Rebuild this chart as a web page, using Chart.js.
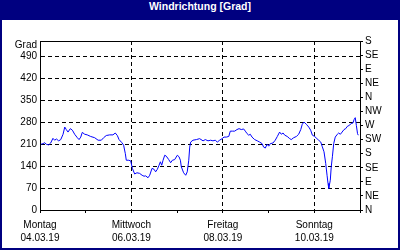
<!DOCTYPE html>
<html>
<head>
<meta charset="utf-8">
<script src="https://cdn.jsdelivr.net/npm/chart.js@4.4.1/dist/chart.umd.min.js"></script>
<style>
    html, body { margin: 0; padding: 0; }
    #frame {
        position: relative;
        width: 400px;
        height: 250px;
        background: #000080;
        overflow: hidden;
    }
    #title {
        height: 20px;
        line-height: 19px;
        text-align: center;
        color: #fff;
        font: bold 10.5px "Liberation Sans", Arial, sans-serif;
    }
    #box {
        position: absolute;
        left: 2px;
        top: 20px;
        width: 396px;
        height: 228px;
        background: #fff;
    }
</style>
</head>
<body>
<div id="frame">
    <div id="title">Windrichtung [Grad]</div>
    <div id="box"><canvas id="windChart"></canvas></div>
</div>
<script>
// Stunden seit Montag 04.03.19 00:00
const hours = [
    0, 1.6, 2.5, 3.3, 4.6, 5.6, 6.8, 7.7, 8.6, 9.8, 10.9, 12.1, 13, 13.8, 14.7, 15.9, 17, 18.2, 19.6, 20.5,
    21.4, 22.2, 23.5, 24.8, 26.6, 28.7, 30.5, 32.2, 33.4, 34.8, 36.6, 38.3, 39.5, 40.6, 41.5, 43, 43.9, 44.8, 45.3, 46.6,
    47.6, 48.5, 49.7, 50.9, 52.3, 53.6, 54.6, 55.5, 56.7, 57.6, 58.8, 59.9, 60.7, 61.6, 62.5, 63.2, 63.9, 64.6, 65.5, 66.3,
    67.6, 68.6, 69.5, 70.7, 72.1, 73, 73.7, 74.2, 75.4, 76.5, 77.3, 78.1, 78.6, 79.1, 80.3, 82.1, 83.8, 85.6, 86.8, 88.2,
    89.6, 90.8, 92, 93.1, 94.3, 95.6, 96.6, 97.8, 99.1, 99.9, 101, 102.2, 103.4, 104.5, 105.7, 106.9, 107.8, 108.7, 109.6, 110.4,
    111.3, 112.7, 114.1, 115.3, 116.6, 117.4, 118.3, 119.2, 120.1, 120.9, 122.3, 123.5, 124.6, 125.8, 126.7, 127.6, 128.5, 129.8, 131.1, 131.9,
    133.2, 134.6, 135.8, 136.9, 137.7, 138.6, 139.8, 141.1, 142.1, 143, 144.2, 145.4, 146.3, 147.4, 148.1, 149.1, 150, 150.7, 151.2, 151.6,
    152.4, 152.9, 153.5, 154.2, 155, 156.1, 156.8, 157.7, 158.6, 159.6, 160.5, 161.3, 162.2, 163.4, 164.3, 164.9, 165.5, 166.1, 166.7, 167.1
];

// Windrichtung in Grad
const degrees = [
    209, 212, 215, 210, 208, 214, 229, 223, 227, 221, 225, 242, 265, 257, 249, 260, 255, 242, 231, 225,
    233, 248, 242, 240, 235, 231, 223, 223, 231, 238, 240, 240, 246, 238, 225, 215, 207, 180, 159, 159,
    157, 133, 115, 119, 117, 111, 108, 109, 103, 111, 133, 130, 122, 130, 143, 154, 143, 159, 175, 172,
    161, 151, 159, 161, 175, 170, 159, 138, 119, 111, 122, 159, 201, 217, 223, 225, 228, 221, 225, 221,
    223, 221, 223, 217, 223, 228, 233, 233, 235, 252, 252, 252, 257, 260, 257, 259, 252, 244, 239, 242,
    233, 225, 221, 217, 212, 201, 198, 210, 204, 212, 214, 223, 235, 249, 242, 246, 239, 235, 228, 225,
    231, 235, 242, 257, 274, 281, 274, 265, 255, 239, 235, 228, 223, 217, 204, 186, 149, 111, 85, 69,
    95, 138, 170, 212, 233, 242, 246, 242, 249, 257, 260, 267, 270, 276, 278, 289, 295, 270, 244, 239
];

const dayNames = ["Montag", "Mittwoch", "Freitag", "Sonntag"];
const dayDates = ["04.03.19", "06.03.19", "08.03.19", "10.03.19"];
const gradTicks = [0, 70, 140, 210, 280, 350, 420, 490];
const compass = ["N", "NE", "E", "SE", "S", "SW", "W", "NW", "N", "NE", "E", "SE", "S"];
const unitLabel = "Grad";
const unitPos = 528;

const tickFont = { family: "'Liberation Sans', Arial, sans-serif", size: 10 };

// Rahmen um die Zeichenfläche
const plotFrame = {
    id: "plotFrame",
    afterDraw(chart) {
        const a = chart.chartArea;
        const c = chart.ctx;
        const l = Math.round(a.left - 0.5) + 0.5;
        const r = Math.round(a.right - 0.5) + 0.5;
        const t = Math.round(a.top - 0.5) + 0.5;
        const b = Math.round(a.bottom - 0.5) + 0.5;
        c.save();
        c.strokeStyle = "#000";
        c.lineWidth = 1;
        c.strokeRect(l, t, r - l, b - t);
        c.restore();
    },
};

const ctx = document.getElementById("windChart").getContext("2d");

new Chart(ctx, {
    type: "line",
    data: {
        datasets: [
            {
                data: hours.map((h, i) => ({ x: h, y: degrees[i] })),
                borderColor: "#0000ff",
                borderWidth: 1,
                pointRadius: 0,
                tension: 0,
                fill: false,
            },
        ],
    },
    options: {
        responsive: true,
        maintainAspectRatio: false,
        animation: false,
        layout: { padding: { top: 21, left: 0, right: 0, bottom: 0 } },
        plugins: {
            legend: { display: false },
            tooltip: { enabled: false },
            title: { display: false },
        },
        scales: {
            x: {
                type: "linear",
                min: 0,
                max: 168,
                afterFit: (s) => { s.height = 38; },
                ticks: {
                    stepSize: 24,
                    autoSkip: false,
                    maxRotation: 0,
                    color: "#000",
                    font: { ...tickFont, lineHeight: 1.3 },
                    padding: 6,
                    callback: (v) => {
                        const k = v / 48;
                        if (Number.isInteger(k) && k < dayNames.length) {
                            return [dayNames[k], dayDates[k]];
                        }
                        return "";
                    },
                },
                grid: {
                    color: (c) => {
                        const v = c.tick ? c.tick.value : 0;
                        return v > 0 && v < 168 && v % 48 === 0 ? "#000" : "rgba(0,0,0,0)";
                    },
                    tickColor: "#000",
                    tickLength: 3,
                    lineWidth: 1,
                },
                border: { display: true, color: "#000", dash: [4, 3] },
            },
            y: {
                position: "left",
                min: 0,
                max: 540,
                afterFit: (s) => { s.width = 38; },
                afterBuildTicks: (s) => {
                    s.ticks = gradTicks.concat([unitPos]).map((v) => ({ value: v }));
                },
                ticks: {
                    color: "#000",
                    font: tickFont,
                    padding: 3,
                    callback: (v) => (v === unitPos ? unitLabel : v),
                },
                grid: {
                    color: (c) => {
                        const v = c.tick ? c.tick.value : 0;
                        return v > 0 && v < 540 && v !== unitPos ? "#000" : "rgba(0,0,0,0)";
                    },
                    drawTicks: false,
                    lineWidth: 1,
                },
                border: { display: true, color: "#000", dash: [4, 3] },
            },
            y2: {
                position: "right",
                min: 0,
                max: 540,
                afterFit: (s) => { s.width = 38; },
                ticks: {
                    stepSize: 45,
                    autoSkip: false,
                    color: "#000",
                    font: tickFont,
                    padding: 2,
                    callback: (v) => compass[Math.round(v / 45)],
                },
                grid: {
                    drawOnChartArea: false,
                    tickColor: "#000",
                    tickLength: 3,
                },
                border: { display: true, color: "#000" },
            },
        },
    },
    plugins: [plotFrame],
});
</script>
</body>
</html>
